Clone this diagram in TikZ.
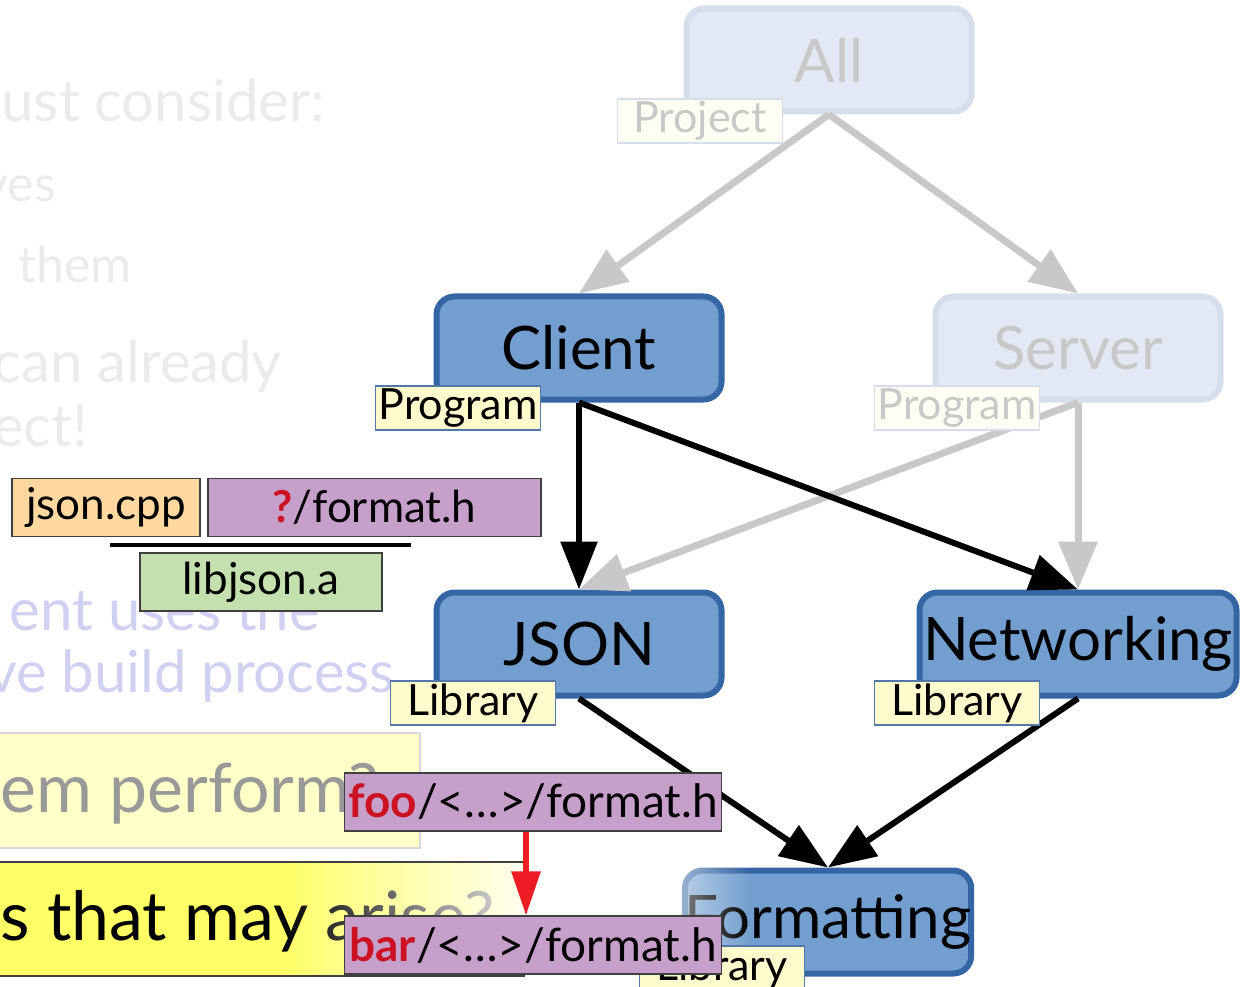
\documentclass[tikz,border=0pt]{standalone}
\usepackage{fontspec}
\setmainfont{Lato}
\usetikzlibrary{positioning}
\usetikzlibrary{arrows.meta,fadings}

\definecolor{nodeblue}{HTML}{729FCF}
\definecolor{nodeedge}{HTML}{3465A4}
\definecolor{fadeblue}{HTML}{E2E9F4}
\definecolor{fadeedge}{HTML}{D5DFEB}
\definecolor{fadetext}{HTML}{C8C8C8}
\definecolor{tagfill}{HTML}{FFFBCC}
\definecolor{tagedge}{HTML}{5577AA}
\definecolor{filepurple}{HTML}{C6A0CA}
\definecolor{fileorange}{HTML}{FFD8A0}
\definecolor{filegreen}{HTML}{C4E0AF}
\definecolor{pathred}{HTML}{CC1122}
\definecolor{arrowred}{HTML}{EE1C25}
\definecolor{lavender}{HTML}{D0D0F2}
\definecolor{paleyellow}{HTML}{FFFFC8}
\definecolor{brightyellow}{HTML}{FFFF66}

\tikzset{
  target/.style={rectangle,rounded corners=18pt,line width=6pt,draw=nodeedge,fill=nodeblue,
    minimum width=285pt,minimum height=103pt,inner sep=0pt,font=\fontsize{60}{60}\selectfont},
  faded/.style={draw=fadeedge,fill=fadeblue,text=fadetext},
  kind/.style={rectangle,draw=tagedge,line width=1.2pt,fill=tagfill,minimum width=165pt,
    minimum height=44pt,inner sep=0pt,font=\fontsize{43}{43}\selectfont},
  fadedkind/.style={draw=fadeedge,fill=tagfill!25,text=fadetext},
  file/.style={rectangle,draw=black!75,line width=1.2pt,minimum height=58pt,inner sep=0pt,
    font=\fontsize{44}{44}\selectfont},
  slide/.style={inner sep=0pt,font=\fontsize{58}{58}\selectfont},
  dep/.style={-{Triangle[length=48pt,width=36pt]},line width=6pt,black},
  fadeddep/.style={-{Triangle[length=48pt,width=38pt]},line width=7pt,fadetext}
}

\begin{document}
\begin{tikzpicture}[x=1pt,y=-1pt]
  \useasboundingbox (0,0) rectangle (1251,987);
  \clip (0,0) rectangle (1251,987);

  % slide text behind the diagram
  \node[slide,text=black!8,anchor=base east] (t1) at (325,122) {ust consider:};
  \node[slide,text=black!8,anchor=base east,font=\fontsize{50}{50}\selectfont] (t2) at (56,202) {ves};
  \node[slide,text=black!8,anchor=base west,font=\fontsize{50}{50}\selectfont] (t3) at (18,283) {them};
  \node[slide,text=black!8,anchor=base east] (t4) at (282,382) {can already};
  \node[slide,text=black!8,anchor=base east] (t5) at (88,446)  {ect!};
  \node[slide,text=lavender,anchor=base east] (t6) at (320,630) {ent uses the};
  \node[slide,text=lavender,anchor=base east] (t7) at (395,692) {ve build process};

  \filldraw[fill=paleyellow,draw=black!15,line width=1.5pt] (-10,733) rectangle (420,848);
  \node[slide,font=\fontsize{68}{68}\selectfont,text=black!40,anchor=base west] (q1) at (0,812) {em perform?};
  \fill[brightyellow] (-10,862) rectangle (525,976);
  \node[slide,font=\fontsize{68}{68}\selectfont,anchor=base west] (q2) at (0,940) {s that may arise?};
  \fill[white,path fading=west] (280,863) rectangle (550,975);
  \draw[black!75,line width=1.5pt] (-10,862) -- (525,862) (-10,976) -- (525,976);

  % targets
  \node[target,faded] (All)        at (829,60)  {All};
  \node[target]       (Client)     at (579,348) {Client};
  \node[target,faded] (Server)     at (1078,348) {Server};
  \node[target]       (JSON)       at (579,644) {JSON};
  \node[target,minimum width=317pt] (Networking) at (1078,644) {Networking};
  \node[target]       (Formatting) at (828,922) {Formatting};
  \fill[white,opacity=0.5,path fading=east] (681,865) rectangle (750,980);

  \draw[fadeddep] (All.south) -- (Client.north);
  \draw[fadeddep] (All.south) -- (Server.north);
  \draw[fadeddep] (Server.south) -- (JSON.north);
  \draw[fadeddep] (Server.south) -- (Networking.north);

  \draw[dep] (Client.south) -- (JSON.north);
  \draw[dep] (Client.south) -- (Networking.north);
  \draw[dep] (JSON.south) -- (Formatting.north);
  \draw[dep] (Networking.south) -- (Formatting.north);

  \node[kind,fadedkind] (AllKind)        at (700,121) {Project};
  \node[kind]           (ClientKind)     at (458,408) {Program};
  \node[kind,fadedkind] (ServerKind)     at (957,408) {Program};
  \node[kind]           (JSONKind)       at (473,703) {Library};
  \node[kind]           (NetworkingKind) at (957,703) {Library};
  \node[kind]           (FormattingKind) at (722,968) {Library};

  % files
  \node[file,fill=fileorange,minimum width=188pt] (JsonCpp)   at (106,507.5) {json.cpp};
  \node[file,fill=filepurple,minimum width=333pt] (AnyHeader) at (374.5,507.5) {\textcolor{pathred}{\textbf{?}}/format.h};
  \draw[line width=4pt] (110,545) -- (411,545);
  \node[file,fill=filegreen,minimum width=242pt]  (LibJson)   at (261,582) {libjson.a};

  \node[file,fill=filepurple,minimum width=377pt,font=\fontsize{46}{46}\selectfont] (FooHeader) at (533,802)
    {\textcolor{pathred}{\textbf{foo}}/<…>/format.h};
  \node[file,fill=filepurple,minimum width=377pt,font=\fontsize{46}{46}\selectfont] (BarHeader) at (533,945)
    {\textcolor{pathred}{\textbf{bar}}/<…>/format.h};
  \draw[-{Triangle[length=44pt,width=28pt]},line width=6pt,arrowred]
    ([xshift=-7pt]FooHeader.south) -- ([xshift=-7pt]BarHeader.north);
\end{tikzpicture}
\end{document}
